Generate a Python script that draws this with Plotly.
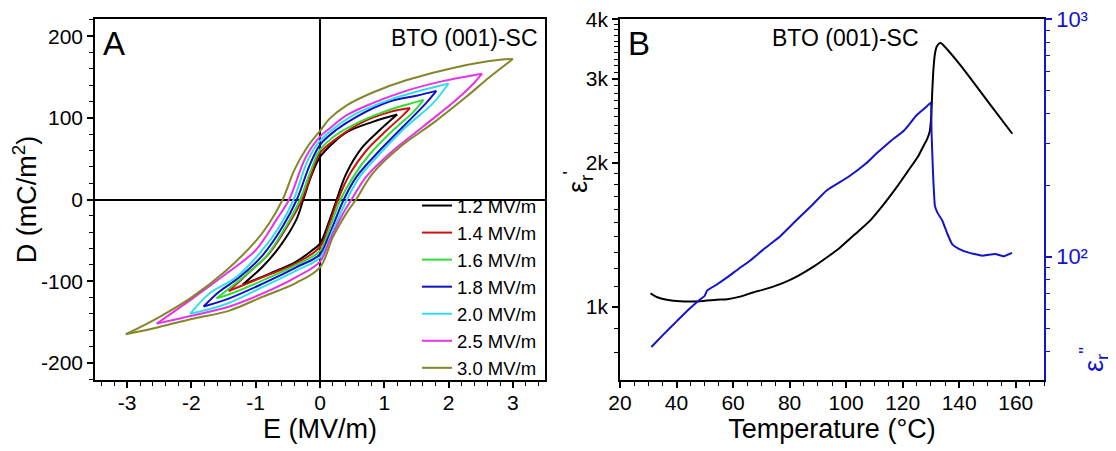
import plotly.graph_objects as go

# ---------------- Panel A: D-E hysteresis loops ----------------
loop_labels = ["1.2 MV/m", "1.4 MV/m", "1.6 MV/m", "1.8 MV/m", "2.0 MV/m", "2.5 MV/m", "3.0 MV/m"]
loop_colors = ["#000000", "#cc1111", "#33dd33", "#1010c8", "#33ddee", "#e633e6", "#85852a"]

# upper branches (field decreasing from +Emax to -Emax), lower branches (increasing)
up_E_12 = [1.2, 0.82, 0.43, 0.2, 0, -0.14, -0.26, -0.37, -0.63, -0.89, -1.2]
up_D_12 = [104, 95, 83, 69, 52, 28, 0, -25, -58, -82, -104]
lo_E_12 = [-1.2, -0.79, -0.37, -0.12, 0, 0.15, 0.26, 0.41, 0.66, 0.93, 1.2]
lo_D_12 = [-104, -91, -76, -62, -54, -25, 0, 32, 64, 85, 104]

up_E_14 = [1.4, 1.08, 0.67, 0.3, 0, -0.14, -0.28, -0.48, -0.79, -1.1, -1.42]
up_D_14 = [112, 107, 95, 77, 57, 30, 0, -29, -66, -89, -112]
lo_E_14 = [-1.42, -0.89, -0.37, 0, 0.15, 0.28, 0.47, 0.72, 1.04, 1.29, 1.4]
lo_D_14 = [-112, -95, -78, -58, -29, 0, 32, 60, 85, 103, 112]

up_E_16 = [1.61, 1.34, 0.98, 0.56, 0.25, 0, -0.14, -0.31, -0.53, -0.84, -1.15, -1.61]
up_D_16 = [122, 116, 107, 93, 79, 61, 36, 0, -33, -70, -92, -121]
lo_E_16 = [-1.61, -1.41, -0.89, -0.37, 0, 0.15, 0.32, 0.52, 0.78, 1.14, 1.45, 1.61]
lo_D_16 = [-121, -116, -99, -80, -63, -35, 0, 28, 56, 85, 107, 122]

up_E_18 = [1.81, 1.5, 1.08, 0.56, 0.25, 0, -0.16, -0.36, -0.58, -0.89, -1.25, -1.57, -1.81]
up_D_18 = [133, 127, 120, 101, 85, 67, 42, 0, -33, -68, -95, -113, -131]
lo_E_18 = [-1.81, -1.41, -0.89, -0.37, 0, 0.15, 0.37, 0.57, 0.88, 1.29, 1.65, 1.81]
lo_D_18 = [-131, -121, -103, -83, -67, -42, 0, 28, 56, 89, 118, 133]

up_E_20 = [2.0, 1.6, 1.08, 0.56, 0.25, 0, -0.19, -0.41, -0.63, -0.94, -1.30, -1.72, -2.02]
up_D_20 = [142, 134, 122, 105, 89, 72, 48, 0, -33, -66, -95, -115, -140]
lo_E_20 = [-2.02, -1.46, -0.89, -0.37, 0, 0.2, 0.42, 0.62, 0.93, 1.34, 1.76, 2.0]
lo_D_20 = [-140, -128, -107, -87, -71, -38, 0, 28, 56, 89, 118, 142]

up_E_25 = [2.52, 1.86, 1.34, 0.82, 0.41, 0.15, 0, -0.22, -0.48, -0.68, -1.0, -1.46, -1.98, -2.54]
up_D_25 = [154, 144, 133, 118, 103, 87, 77, 52, 0, -25, -62, -91, -121, -152]
lo_E_25 = [-2.54, -1.98, -1.41, -0.89, -0.37, 0, 0.15, 0.36, 0.49, 0.72, 1.08, 1.6, 2.12, 2.4, 2.52]
lo_D_25 = [-152, -142, -131, -115, -95, -76, -50, -17, 0, 28, 56, 89, 122, 143, 154]

up_E_30 = [3.0, 2.8, 2.12, 1.34, 0.82, 0.41, 0.15, 0, -0.2, -0.4, -0.58, -0.79, -0.99, -1.46, -1.98, -2.5, -3.02]
up_D_30 = [172, 171, 162, 146, 131, 115, 99, 84, 64, 36, 0, -29, -50, -87, -119, -144, -165]
lo_E_30 = [-3.02, -2.5, -1.98, -1.41, -0.89, -0.37, 0, 0.2, 0.41, 0.56, 0.82, 1.24, 1.8, 2.28, 2.64, 3.0]
lo_D_30 = [-165, -156, -146, -136, -119, -102, -83, -46, -17, 0, 32, 64, 96, 126, 150, 172]

loops = [
    (up_E_12, up_D_12, lo_E_12, lo_D_12),
    (up_E_14, up_D_14, lo_E_14, lo_D_14),
    (up_E_16, up_D_16, lo_E_16, lo_D_16),
    (up_E_18, up_D_18, lo_E_18, lo_D_18),
    (up_E_20, up_D_20, lo_E_20, lo_D_20),
    (up_E_25, up_D_25, lo_E_25, lo_D_25),
    (up_E_30, up_D_30, lo_E_30, lo_D_30),
]

# ---------------- Panel B: dielectric permittivity ----------------
T_real = [30.8, 33.2, 37, 41.2, 48.3, 54.2, 58, 62.5, 67.0, 71.9, 78.2, 83.0, 88.2, 93.0, 98.1,
          103.0, 108.1, 113.0, 118.1, 121.8, 125.5, 127.2, 128.6, 129.6, 130.1, 130.5, 130.9,
          131.4, 132.0, 132.8, 133.6, 134.5, 140.7, 150.5, 158.8]
eps_real = [1066, 1046, 1032, 1026, 1026, 1033, 1036, 1049, 1070, 1090, 1124, 1160, 1209, 1265, 1333,
            1415, 1506, 1630, 1786, 1920, 2065, 2160, 2240, 2330, 2500, 2850, 3150,
            3380, 3500, 3555, 3565, 3525, 3191, 2673, 2302]

T_imag = [31.1, 35.5, 40.2, 44.0, 48.4, 50.0, 50.8, 54.0, 57.9, 62.0, 66.0, 71.0, 76.7, 82.3, 88.2,
          93.1, 100.6, 106.9, 110.6, 115.5, 120.5, 125.0, 128.6, 129.9, 130.2, 130.7, 131.4,
          132.2, 134.0, 135.8, 137.5, 139.9, 143.4, 148.1, 150.5, 152.8, 155.8, 158.7]
eps_imag = [41.7, 47.2, 53.7, 59.5, 66.2, 68.5, 72.0, 76.0, 81.8, 89.0, 96.2, 108, 122, 142, 166,
            190, 216, 246, 271, 305, 340, 395, 430, 445, 340, 231, 164,
            154, 142, 125, 113, 108, 104, 101, 102, 102.6, 100.5, 103.7]

real_ticks = [1000, 2000, 3000, 4000]
real_ticktext = ["1k", "2k", "3k", "4k"]
real_minor = [800, 900] + [v for v in range(1100, 4000, 100) if v % 1000 != 0]
imag_ticks = [100, 1000]
imag_ticktext = ["10²", "10³"]
imag_minor = [40, 50, 60, 70, 80, 90, 200, 300, 400, 500, 600, 700, 800, 900]

FONT = "Liberation Sans, Arial, sans-serif"
BLUE = "#1414c8"

fig = go.Figure()

for (ue, ud, le, ld), name, col in zip(loops, loop_labels, loop_colors):
    fig.add_trace(go.Scatter(
        x=list(ue) + [None] + list(le), y=list(ud) + [None] + list(ld),
        mode="lines", name=name, line=dict(color=col, width=2, shape="spline", smoothing=1.0),
        connectgaps=False, xaxis="x", yaxis="y"))

fig.add_trace(go.Scatter(x=T_real, y=eps_real, mode="lines", showlegend=False,
                         line=dict(color="black", width=2, shape="spline", smoothing=0.5),
                         xaxis="x2", yaxis="y2"))
fig.add_trace(go.Scatter(x=T_imag, y=eps_imag, mode="lines", showlegend=False,
                         line=dict(color=BLUE, width=2, shape="spline", smoothing=0.4),
                         xaxis="x2", yaxis="y3"))

# the page body has an 8px margin; lay out in screen pixels and convert
OFF = 8
W, H = 1108, 443
def px_x(p):
    return (p - OFF) / W
def px_y(p):
    return 1 - (p - OFF) / H

common_tick = dict(ticks="outside", ticklen=6, tickwidth=1.5, tickcolor="black",
                   showline=True, linewidth=1.5, linecolor="black", showgrid=False,
                   ticklabeloverflow="allow",
                   tickfont=dict(family=FONT, size=21, color="black"))
minor_k = dict(ticklen=4, tickwidth=1.2, tickcolor="black", ticks="outside")

fig.update_layout(
    width=W, height=H,
    margin=dict(l=0, r=0, t=0, b=0),
    paper_bgcolor="white", plot_bgcolor="white",
    font=dict(family=FONT, color="black"),
    xaxis=dict(domain=[px_x(95), px_x(545)], range=[-3.5, 3.5], anchor="y",
               tickvals=[-3, -2, -1, 0, 1, 2, 3], ticktext=["-3", "-2", "-1", "0", "1", "2", "3"],
               mirror=True, zeroline=True, zerolinecolor="black", zerolinewidth=1.5,
               minor=dict(dtick=0.2, **minor_k), ticklabelstandoff=-3,
               title=dict(text="E (MV/m)", font=dict(size=27), standoff=6),
               automargin=False, **common_tick),
    yaxis=dict(domain=[px_y(380), px_y(19)], range=[-221, 221], anchor="x",
               tickvals=[-200, -100, 0, 100, 200], ticktext=["-200", "-100", "0", "100", "200"],
               mirror=True, zeroline=True, zerolinecolor="black", zerolinewidth=1.5,
               minor=dict(dtick=20, **minor_k),
               title=dict(text="D (mC/m<sup>2</sup>)", font=dict(size=27), standoff=2),
               automargin=False, **common_tick),
    xaxis2=dict(domain=[px_x(620), px_x(1044)], range=[20, 170], anchor="y2",
                tickvals=[20, 40, 60, 80, 100, 120, 140, 160], mirror=True, zeroline=False,
                minor=dict(dtick=5, **minor_k), ticklabelstandoff=-3,
                title=dict(text="Temperature (°C)", font=dict(size=27), standoff=6),
                automargin=False, **common_tick),
    yaxis2=dict(domain=[px_y(380), px_y(19)], type="log", range=[2.846, 3.6026], anchor="x2",
                tickmode="array", tickvals=real_ticks, ticktext=real_ticktext, zeroline=False,
                minor=dict(tickmode="array", tickvals=real_minor, **minor_k),
                automargin=False, **common_tick),
    yaxis3=dict(domain=[px_y(380), px_y(19)], type="log", range=[1.481, 3.0006], anchor="x2",
                overlaying="y2", side="right", tickmode="array", tickvals=imag_ticks, ticktext=imag_ticktext,
                ticks="outside", ticklen=6, tickwidth=1.5, tickcolor=BLUE, ticklabeloverflow="allow",
                showline=True, linewidth=1.5, linecolor=BLUE, showgrid=False, zeroline=False,
                tickfont=dict(family=FONT, size=22, color=BLUE),
                minor=dict(tickmode="array", tickvals=imag_minor, ticklen=4, tickwidth=1.2,
                           tickcolor=BLUE, ticks="outside"),
                automargin=False),
    legend=dict(x=px_x(542), y=px_y(387), xanchor="right", yanchor="bottom",
                bgcolor="rgba(0,0,0,0)", font=dict(family=FONT, size=18.5, color="black"),
                tracegroupgap=0, itemwidth=30),
    showlegend=True,
)

annotations = [
    dict(text="A", x=px_x(101), y=px_y(43), xanchor="left", yanchor="middle", size=33, color="black"),
    dict(text="BTO (001)-SC", x=px_x(540), y=px_y(38), xanchor="right", yanchor="middle", size=23, color="black"),
    dict(text="B", x=px_x(626), y=px_y(43), xanchor="left", yanchor="middle", size=33, color="black"),
    dict(text="BTO (001)-SC", x=px_x(845), y=px_y(38), xanchor="center", yanchor="middle", size=23, color="black"),
    dict(text="ε<sub>r</sub><sup>'</sup>", x=px_x(578), y=px_y(182), xanchor="center", yanchor="middle",
         textangle=-90, size=27, color="black"),
    dict(text="ε<sub>r</sub><sup>\"</sup>", x=px_x(1094), y=px_y(360), xanchor="center", yanchor="middle",
         textangle=-90, size=27, color=BLUE),
]
ann_list = []
for a in annotations:
    size = a.pop("size")
    color = a.pop("color")
    a.update(xref="paper", yref="paper", showarrow=False,
             font=dict(family=FONT, size=size, color=color))
    ann_list.append(a)
fig.update_layout(annotations=ann_list)

fig.write_html("out.html")
